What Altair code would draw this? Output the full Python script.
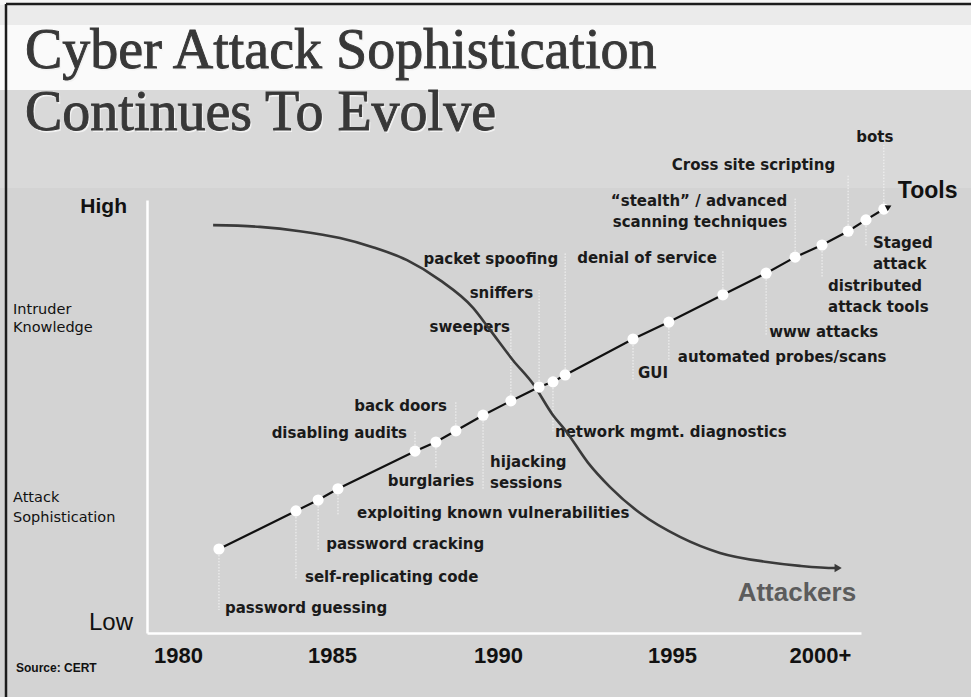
import altair as alt
import pandas as pd

# ------------------------------------------------------------------ data
title_lines = ["Cyber Attack Sophistication", "Continues To Evolve"]

tick_years = [1980, 1985, 1990, 1995, 2000]
tick_labels = ["1980", "1985", "1990", "1995", "2000+"]

tool_names = [
    "password guessing",
    "self-replicating code",
    "password cracking",
    "exploiting known vulnerabilities",
    "disabling audits",
    "burglaries",
    "back doors",
    "hijacking\nsessions",
    "sweepers",
    "sniffers",
    "network mgmt. diagnostics",
    "packet spoofing",
    "GUI",
    "automated probes/scans",
    "denial of service",
    "www attacks",
    "\u201cstealth\u201d / advanced\nscanning techniques",
    "distributed\nattack tools",
    "Cross site scripting",
    "Staged\nattack",
    "bots",
]
tool_years = [1981.33, 1983.83, 1984.55, 1985.18, 1987.50, 1988.13, 1988.73,
              1989.55, 1990.37, 1991.18, 1991.58, 1991.93, 1993.88, 1994.91,
              1996.72, 1998.18, 1999.16, 2000.07, 2000.96, 2001.57, 2002.18]
tool_levels = [19.4, 28.2, 30.7, 33.3, 42.0, 44.1, 46.7, 50.3, 53.6, 56.8,
               58.0, 59.6, 67.9, 71.8, 78.1, 83.1, 86.8, 89.6, 92.8, 95.4, 97.9]
tools_tip = [2002.35, 98.4]          # arrow head of the "Tools" line

attacker_years = [1981.14, 1982.66, 1983.96, 1985.24, 1986.23, 1987.26, 1988.25,
                  1989.25, 1989.76, 1990.43, 1991.01, 1991.58, 1991.93, 1992.59,
                  1993.22, 1994.08, 1995.27, 1996.62, 1998.21, 1999.32, 2000.51,
                  2000.62]
attacker_levels = [94.2, 93.8, 92.8, 91.2, 89.1, 86.1, 81.5, 75.1, 70.0, 63.0,
                   57.5, 50.3, 46.9, 39.3, 33.7, 27.7, 22.2, 18.5, 16.4, 15.5,
                   15.0, 15.0]

series_names = ["Tools", "Attackers"]
level_names = ["High", "Low"]
axis_notes = ["Intruder\nKnowledge", "Attack\nSophistication"]
source_note = "Source: CERT"

# ------------------------------------------------------------------ layout / style
LEFT, TOP = 147, 200
W, H = 714, 433
X_DOMAIN = [1979, 1980, 1985, 1990, 1995, 2000, 2001.4]
X_RANGE = [0, 31, 185, 351, 525, 673, 714]
PX_PER_LEVEL = H / 100.0

# name -> (align, dx px, dy px to (first) label line, leader length px)
LABEL_LAYOUT = {
    "password guessing": ("left", 6, 59, 61),
    "self-replicating code": ("left", 9, 66, 69),
    "password cracking": ("left", 8, 44, 50),
    "exploiting known vulnerabilities": ("left", 19, 24, 26),
    "disabling audits": ("right", -8, -18, -21),
    "burglaries": ("center", -5, 39, 26),
    "back doors": ("right", -9, -25, -29),
    "hijacking\nsessions": ("left", 7, 47, 75),
    "sweepers": ("right", -1, -74, -71),
    "sniffers": ("right", -6, -94, -97),
    "network mgmt. diagnostics": ("left", 2, 50, 51),
    "packet spoofing": ("right", -7, -116, -122),
    "GUI": ("left", 5, 34, 41),
    "automated probes/scans": ("left", 9, 35, 38),
    "denial of service": ("right", -6, -37, -45),
    "www attacks": ("left", 3, 59, 62),
    "\u201cstealth\u201d / advanced\nscanning techniques": ("right", -8, -56, -60),
    "distributed\nattack tools": ("left", 6, 41, 32),
    "Cross site scripting": ("right", -13, -66, -56),
    "Staged\nattack": ("left", 7, 23, 27),
    "bots": ("center", -9, -72, -64),
}

BG = "#d3d3d3"
LABEL_FONT = "DejaVu Sans"
SANS = "Liberation Sans"

# ------------------------------------------------------------------ tables
tools = pd.DataFrame({"name": tool_names, "year": tool_years, "level": tool_levels})
tools["align"] = [LABEL_LAYOUT[n][0] for n in tool_names]
tools["dx"] = [LABEL_LAYOUT[n][1] for n in tool_names]
tools["dy"] = [LABEL_LAYOUT[n][2] for n in tool_names]
tools["lead"] = [lv - LABEL_LAYOUT[n][3] / PX_PER_LEVEL
                 for n, lv in zip(tool_names, tool_levels)]

tools_line = pd.DataFrame({"year": tool_years + [tools_tip[0]],
                           "level": tool_levels + [tools_tip[1]]})
tools_end = pd.DataFrame({"year": [tools_tip[0]], "level": [tools_tip[1]],
                          "name": [series_names[0]]})
attackers = pd.DataFrame({"year": attacker_years, "level": attacker_levels})
attackers_end = pd.DataFrame({"year": [attacker_years[-1]],
                              "level": [attacker_levels[-1]],
                              "name": [series_names[1]]})

label_expr = ("[" + ",".join("'%s'" % t for t in tick_labels) + "][indexof(["
              + ",".join(str(y) for y in tick_years) + "], datum.value)]")

X = alt.X("year:Q",
          scale=alt.Scale(domain=X_DOMAIN, range=X_RANGE, nice=False, zero=False),
          axis=alt.Axis(values=tick_years, labelExpr=label_expr, title="",
                        domainColor="white", domainWidth=2.5, ticks=False,
                        grid=False, labelFont=SANS, labelFontWeight="bold",
                        labelFontSize=22, labelColor="#111111", labelPadding=12,
                        labelOverlap=False, labelFlush=False))
Y = alt.Y("level:Q",
          scale=alt.Scale(domain=[0, 100], nice=False, zero=False),
          axis=alt.Axis(title="", domainColor="white", domainWidth=2.5,
                        ticks=False, labels=False, grid=False))

one = pd.DataFrame({"t": [""]})


def band(y0, y1, color):
    return alt.Chart(one).mark_rect(color=color).encode(
        x=alt.value(-LEFT), x2=alt.value(971 - LEFT),
        y=alt.value(y0 - TOP), y2=alt.value(y1 - TOP))


def note(text, x, y, **kw):
    return alt.Chart(pd.DataFrame({"t": [text]})).mark_text(lineBreak="\n", **kw).encode(
        x=alt.value(x - LEFT), y=alt.value(y - TOP), text="t:N")


layers = [
    band(0, 5, "#f6f6f6"),
    band(5, 25, "#ebebeb"),
    band(25, 90, "#fafafa"),
    band(90, 188, "#d9d9d9"),
    alt.Chart(one).mark_rule(color="#1c1c1c", strokeWidth=2.5).encode(
        x=alt.value(6 - LEFT), x2=alt.value(971 - LEFT), y=alt.value(4 - TOP)),
    alt.Chart(one).mark_rule(color="#1c1c1c", strokeWidth=2.5).encode(
        x=alt.value(6 - LEFT), y=alt.value(4 - TOP), y2=alt.value(697 - TOP)),
]

# title with a light shadow
for i, line in enumerate(title_lines):
    base_y = [68, 130][i]
    layers.append(note(line, 25 + 1.5, base_y + 1.5, font="Liberation Serif", fontSize=56,
                       color="#f2f2f2", align="left", baseline="alphabetic"))
    layers.append(note(line, 25, base_y, font="Liberation Serif", fontSize=56,
                       color="#383838", stroke="#383838", strokeWidth=0.9,
                       align="left", baseline="alphabetic"))

layers += [
    note(level_names[0], 127, 207, font=SANS, fontSize=21, fontWeight="bold",
         color="#111111", align="right", baseline="middle"),
    note(level_names[1], 133, 623, font=SANS, fontSize=24, color="#111111",
         align="right", baseline="middle"),
    note(axis_notes[0], 13, 310, font=LABEL_FONT, fontSize=14.5, lineHeight=18,
         color="#111111", align="left", baseline="middle"),
    note(axis_notes[1], 13, 498, font=LABEL_FONT, fontSize=14.5, lineHeight=20,
         color="#111111", align="left", baseline="middle"),
    note(source_note, 16, 668, font=SANS, fontSize=12, fontWeight="bold",
         color="#111111", align="left", baseline="middle"),
]

base = alt.Chart(tools)

leaders = base.mark_rule(color="#f4f4f4", strokeWidth=1, strokeDash=[1.5, 1.5]).encode(
    x=X, y=Y, y2="lead:Q")

labels = base.mark_text(
    font=LABEL_FONT, fontSize=15, fontWeight="bold", color="#1a1a1a",
    baseline="middle", lineBreak="\n", lineHeight=21,
    align={"expr": "datum.align"}, dx={"expr": "datum.dx"}, dy={"expr": "datum.dy"},
).encode(x=X, y=Y, text="name:N")

att_line = alt.Chart(attackers).mark_line(
    color="#3a3a3a", strokeWidth=2.6, interpolate="monotone").encode(x=X, y=Y)
att_arrow = alt.Chart(attackers_end).mark_point(
    shape="triangle-right", filled=True, size=70, color="#3a3a3a", opacity=1).encode(x=X, y=Y)
att_label = alt.Chart(attackers_end).mark_text(
    font=SANS, fontSize=26, fontWeight="bold", color="#5c5c5c",
    align="right", baseline="middle", dx=18, dy=25).encode(x=X, y=Y, text="name:N")

tool_line = alt.Chart(tools_line).mark_line(color="#111111", strokeWidth=2.2).encode(x=X, y=Y)
tool_dots = base.mark_circle(color="white", size=125, opacity=1).encode(x=X, y=Y)
tool_arrow = alt.Chart(tools_end).mark_point(
    shape="triangle-right", filled=True, size=45, color="#111111", opacity=1,
    angle=333).encode(x=X, y=Y)
tool_label = alt.Chart(tools_end).mark_text(
    font=SANS, fontSize=23, fontWeight="bold", color="#111111",
    align="left", baseline="middle", dx=9, dy=-16).encode(x=X, y=Y, text="name:N")

layers += [leaders, labels, att_line, att_arrow, att_label,
           tool_line, tool_dots, tool_arrow, tool_label]

chart = alt.layer(*layers).properties(
    width=W, height=H,
    autosize=alt.AutoSizeParams(type="none"),
    padding={"left": LEFT, "top": TOP, "right": 971 - LEFT - W, "bottom": 697 - TOP - H},
).configure(background=BG).configure_view(strokeWidth=0)

chart.save("out.html", embed_options={"renderer": "svg", "actions": False})
